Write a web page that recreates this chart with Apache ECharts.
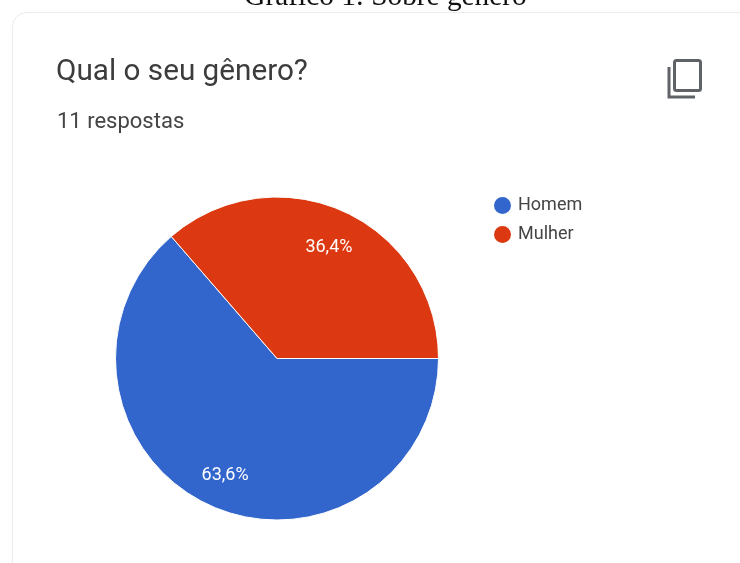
<!DOCTYPE html>
<html>
<head>
<meta charset="utf-8">
<style>html,body{margin:0;padding:0;background:#fff;overflow:hidden}#c{width:740px;height:563px}</style>
<script src="https://cdn.jsdelivr.net/npm/echarts@6/dist/echarts.min.js"></script>
</head>
<body>
<div id="c"></div>
<script>
// Survey answers: how many respondents picked each option
const categories = ['Homem', 'Mulher'];
const answers = [7, 4];
const colors = ['#3366cc', '#dc3912'];
const caption = 'Gráfico 1: Sobre gênero';
const question = 'Qual o seu gênero?';
const responses = '11 respostas';

const total = answers.reduce((a, b) => a + b, 0);
const pieData = categories.map((name, i) => ({ name, value: answers[i] }));
const percentLabel = p => (p.value / total * 100).toFixed(1).replace('.', ',') + '%';

const chart = echarts.init(document.getElementById('c'), null, { renderer: 'canvas' });
chart.setOption({
  backgroundColor: '#ffffff',
  animation: false,
  color: colors,
  title: [
    { text: caption, left: 380.5, textAlign: 'center', top: -22,
      textStyle: { fontFamily: 'Liberation Serif', fontSize: 29.3, fontWeight: 'normal', color: '#111' } },
    { text: question, left: 51, top: 53,
      textStyle: { fontFamily: 'Roboto', fontSize: 29.7, fontWeight: 'normal', color: '#3c3c3c' } },
    { text: responses, left: 52, top: 106,
      textStyle: { fontFamily: 'Roboto', fontSize: 22, fontWeight: 'normal', color: '#444' } }
  ],
  legend: {
    orient: 'vertical', left: 487, top: 190, icon: 'circle',
    itemWidth: 19, itemHeight: 19, itemGap: 8,
    selectedMode: false,
    textStyle: { fontFamily: 'Roboto', fontSize: 18, color: '#444', padding: [5, 0, 0, 1] }
  },
  graphic: [
    // Card outline behind the chart
    { type: 'rect', z: -1, shape: { x: 12.5, y: 12.5, width: 760, height: 600, r: 14 },
      style: { fill: '#fff', stroke: '#ececec', lineWidth: 1 } },
    // Copy icon: front sheet and back sheet corner
    { type: 'rect', shape: { x: 674.5, y: 60.5, width: 26, height: 30, r: 2 },
      style: { fill: 'none', stroke: '#5f6368', lineWidth: 3 } },
    { type: 'polyline', shape: { points: [[669, 67], [669, 97], [695, 97]] },
      style: { fill: 'none', stroke: '#5f6368', lineWidth: 3 } }
  ],
  series: [
    {
      type: 'pie', center: [277, 358.5], radius: [0, 161.5], startAngle: 0, clockwise: true,
      data: pieData, label: { show: false }, labelLine: { show: false }, silent: true,
      itemStyle: { borderColor: '#fff', borderWidth: 1 }
    },
    {
      // Transparent ring that places the percentages toward the rim
      type: 'pie', center: [277, 358.5], radius: [83, 161], startAngle: 0, clockwise: true,
      data: pieData, silent: true, legendHoverLink: false,
      itemStyle: { color: 'transparent' },
      label: { show: true, position: 'inside', formatter: percentLabel,
        fontFamily: 'Roboto', fontSize: 18, color: '#fff' },
      labelLayout: { dy: 3 },
      labelLine: { show: false }
    }
  ]
});
</script>
</body>
</html>
